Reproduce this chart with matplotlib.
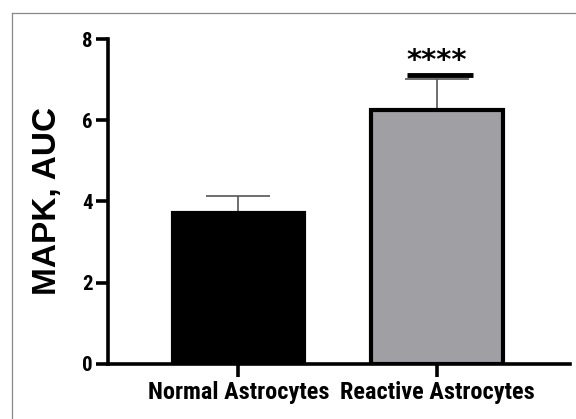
import matplotlib
matplotlib.use("Agg")
import matplotlib.pyplot as plt
from matplotlib import font_manager
from matplotlib.lines import Line2D

categories = ["Normal Astrocytes", "Reactive Astrocytes"]
means = [3.72, 6.25]
errors = [0.42, 0.77]
bar_colors = ["#000000", "#a09fa4"]
yticks = [0, 2, 4, 6, 8]
sig_label = "****"

names = {f.name for f in font_manager.fontManager.ttflist}
narrow = None
for cand in ["Liberation Sans Narrow", "Roboto Condensed", "Open Sans Condensed"]:
    if cand in names:
        narrow = cand
        break

fig = plt.figure(figsize=(5.76, 4.19), dpi=100)
ax = fig.add_axes([0.1875, 0.1313, 0.8021, 0.7756])

x = list(range(len(categories)))
ax.bar(x, means, width=0.66, color=bar_colors, edgecolor="black", linewidth=3, zorder=2)
ax.errorbar(x, means, yerr=[[0, 0], errors], fmt="none", ecolor="#555555",
            elinewidth=1.2, capsize=23, capthick=1.2, zorder=1)

# significance marker above the reactive bar
top = means[1] + errors[1]
ax.plot([0.85, 1.18], [top + 0.1, top + 0.1], color="black", lw=3.5, solid_capstyle="butt",
        clip_on=False, zorder=3)
ax.text(1.0, top + 0.45, sig_label, ha="center", va="center", fontsize=21, fontweight="bold",
        family="DejaVu Sans", clip_on=False)

if narrow:
    tick_fam, ysz, xsz = narrow, 15, 17.5
else:
    tick_fam, ysz, xsz = "Liberation Sans", 13.5, 14

ax.set_xlim(-0.657, 1.67)
ax.set_ylim(0, 8)
ax.set_yticks(yticks)
ax.set_yticklabels([str(v) for v in yticks], fontsize=ysz, fontweight="bold", family=tick_fam)
ax.set_xticks(x)
ax.set_xticklabels(categories, fontsize=xsz, fontweight="bold", family=tick_fam)
ax.set_ylabel("MAPK, AUC", fontsize=24, fontweight="bold", family="Liberation Sans")
ax.yaxis.set_label_coords(-0.097, 0.5)

for s in ["top", "right"]:
    ax.spines[s].set_visible(False)
for s in ["left", "bottom"]:
    ax.spines[s].set_linewidth(2.6)
ax.tick_params(axis="both", direction="out", length=9, width=2.6, pad=2)
ax.tick_params(axis="x", pad=3)

# partial outer frame (left and top)
fig.add_artist(Line2D([12/576, 12/576], [0, 1 - 13/419], transform=fig.transFigure,
                      color="#888888", lw=0.9))
fig.add_artist(Line2D([12/576, 1], [1 - 13/419, 1 - 13/419], transform=fig.transFigure,
                      color="#888888", lw=0.9))

fig.savefig("out.png", dpi=100)
